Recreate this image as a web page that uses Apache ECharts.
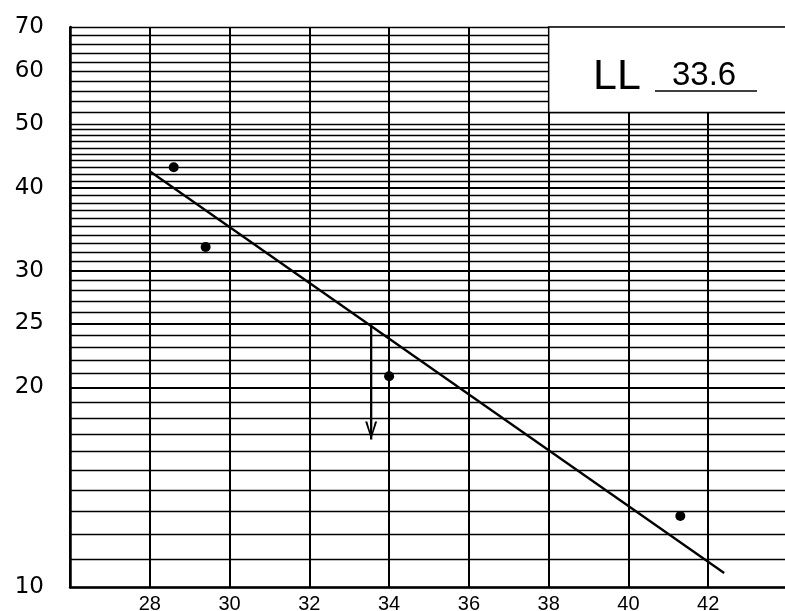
<!DOCTYPE html>
<html><head><meta charset="utf-8">
<script src="https://cdn.jsdelivr.net/npm/echarts@6.0.0/dist/echarts.min.js"></script>
<style>html,body{margin:0;padding:0;background:#fff}#c{width:785px;height:611px}</style>
</head><body><div id="c"></div>
<script>
// Data
const waterContent = [28.6, 29.4, 34.0, 41.3];   // x values of the points
const blows = [43, 32.6, 20.8, 12.8];           // y values (number of blows)
const fitX = [28.0, 42.4];                      // flow line end points
const fitY = [42.4, 10.5];
const arrowX = 33.55;                           // LL read-off arrow
const arrowY = [25, 16.7];
const llText = '33.6';
const xTickLabels = [28, 30, 32, 34, 36, 38, 40, 42];
const yTickLabels = [10, 20, 25, 30, 40, 50, 60, 70];
const yGridValues = [10, 11, 12, 13, 14, 15, 16, 17, 18, 19, 20, 21, 22, 23, 24, 25, 26, 27, 28, 29,
  30, 31, 32, 33, 34, 35, 36, 37, 38, 39, 40, 41, 42, 43, 44, 45, 46, 47, 48, 49,
  50, 52, 54, 56, 58, 60, 62, 64, 66, 68, 70];
const yBoldValues = [20, 25, 30, 40];
const boxFrom = [38, 52];
const boxTo = [44, 70];

const chart = echarts.init(document.getElementById('c'), null, {renderer: 'canvas'});

const gridLines = yGridValues.map(v => ({
  yAxis: v,
  lineStyle: {color: '#000', type: 'solid', width: yBoldValues.includes(v) ? 2.2 : 1.4},
  label: yTickLabels.includes(v)
    ? {show: true, position: 'start', distance: 26, formatter: String(v),
       fontFamily: 'DejaVu Sans', fontSize: 23, color: '#000'}
    : {show: false}
}));

const arrowHead = 'path://M0,0 L1.8,0 L5,10.5 L8.2,0 L10,0 L5,14 Z';

chart.setOption({
  animation: false,
  backgroundColor: '#fff',
  grid: {left: 70, top: 27, width: 718, height: 560, containLabel: false, outerBoundsMode: 'none'},
  xAxis: {
    type: 'value', min: 26, max: 44, interval: 2,
    axisLine: {show: true, lineStyle: {color: '#000', width: 2.5}},
    axisTick: {show: false},
    splitLine: {show: true, lineStyle: {color: '#000', width: 2}},
    axisLabel: {
      margin: 7, fontFamily: 'Liberation Sans', fontSize: 20, color: '#000',
      formatter: v => xTickLabels.includes(v) ? String(v) : ''
    }
  },
  yAxis: {
    type: 'log', logBase: 10, min: 10, max: 70,
    axisLine: {show: true, lineStyle: {color: '#000', width: 2.5}},
    axisTick: {show: false},
    splitLine: {show: false},
    minorSplitLine: {show: false},
    axisLabel: {show: false}
  },
  series: [
    {
      type: 'line', name: 'grid', data: [], silent: true, z: 1,
      markLine: {silent: true, z: 2, symbol: 'none', animation: false, data: gridLines},
      markArea: {
        silent: true, z: 3, animation: false,
        itemStyle: {color: '#fff', borderColor: '#000', borderWidth: 1.5},
        data: [[{coord: boxFrom}, {coord: boxTo}]]
      }
    },
    {
      type: 'line', name: 'flow', z: 4, symbol: 'none',
      lineStyle: {color: '#000', width: 2.3},
      data: fitX.map((x, i) => [x, fitY[i]])
    },
    {
      type: 'line', name: 'arrow', z: 4,
      lineStyle: {color: '#000', width: 2.3},
      itemStyle: {color: '#000'},
      showSymbol: true,
      data: [
        {value: [arrowX, arrowY[0]], symbol: 'none'},
        {value: [arrowX, arrowY[1]], symbol: arrowHead, symbolSize: [12, 18], symbolOffset: [0, '-50%']}
      ]
    },
    {
      type: 'scatter', name: 'points', z: 5,
      symbol: 'circle', symbolSize: 10,
      itemStyle: {color: '#000', opacity: 1},
      data: waterContent.map((x, i) => [x, blows[i]])
    }
  ],
  graphic: [
    {type: 'text', z: 10, style: {x: 593, y: 77, text: 'LL', fontFamily: 'Liberation Sans', fontSize: 43, fill: '#000', verticalAlign: 'middle'}},
    {type: 'text', z: 10, style: {x: 672, y: 76, text: llText, fontFamily: 'Liberation Sans', fontSize: 33, fill: '#000', verticalAlign: 'middle'}},
    {type: 'line', z: 10, shape: {x1: 655, y1: 91, x2: 757, y2: 91}, style: {stroke: '#000', lineWidth: 1.5}}
  ]
});
</script>
</body></html>
